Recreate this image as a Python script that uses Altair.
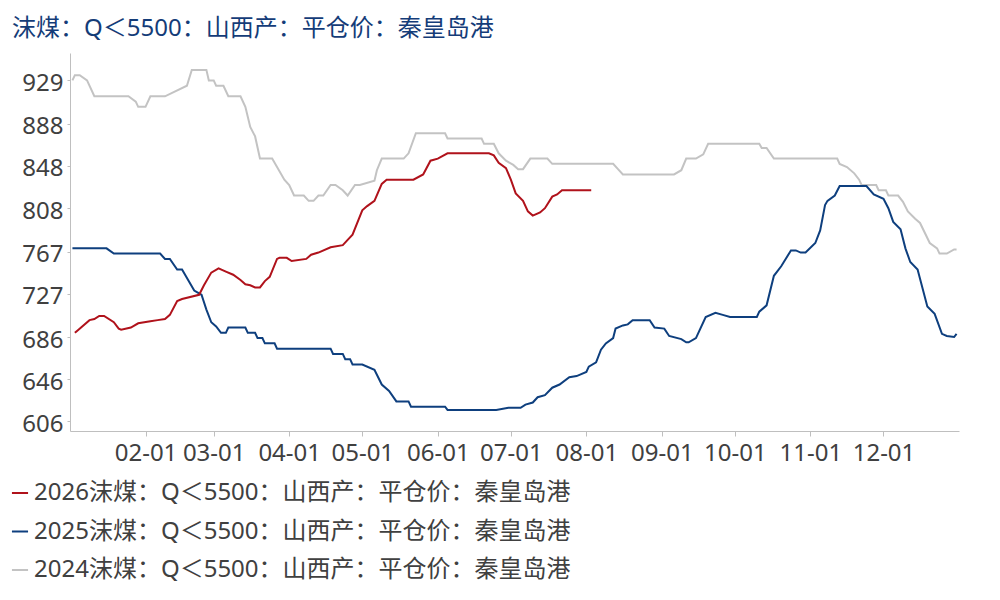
import altair as alt
import pandas as pd

series_names = [
    "2026沫煤：Q＜5500：山西产：平仓价：秦皇岛港",
    "2025沫煤：Q＜5500：山西产：平仓价：秦皇岛港",
    "2024沫煤：Q＜5500：山西产：平仓价：秦皇岛港",
]
series_colors = ["#b0121b", "#0e3f7e", "#c3c3c3"]

dates_2024 = ["01-02","01-03","01-05","01-08","01-11","01-25","01-28","01-29","02-01","02-03",
              "02-09","02-18","02-20","02-26","02-27","03-01","03-02","03-05","03-07","03-12",
              "03-14","03-16","03-18","03-20","03-25","03-30","04-01","04-03","04-07","04-09",
              "04-11","04-13","04-15","04-18","04-20","04-23","04-25","04-28","04-30","05-06",
              "05-07","05-09","05-18","05-20","05-23","06-04","06-05","06-19","06-20","06-24",
              "06-26","06-29","07-02","07-04","07-06","07-09","07-16","07-18","08-12","08-14",
              "08-16","09-06","09-09","09-11","09-15","09-18","09-20","10-11","10-12","10-14",
              "10-17","11-12","11-13","11-16","11-19","11-21","11-22","11-28","11-29","12-02",
              "12-03","12-07","12-09","12-11","12-14","12-16","12-20","12-23","12-24","12-27",
              "12-30","12-31"]
values_2024 = [929,934,934,929,914,914,909,904,904,914,
               914,924,939,939,929,929,924,924,914,914,
               904,885,876,855,855,835,830,820,820,815,
               815,820,820,830,830,825,820,830,830,834,
               844,855,855,860,879,879,874,874,869,869,
               860,853,849,845,845,855,855,850,850,845,
               840,840,844,855,855,859,869,869,865,865,
               855,855,850,847,841,835,830,830,825,825,
               820,820,814,805,798,794,775,770,765,765,
               769,769]

dates_2025 = ["01-02","01-16","01-19","02-07","02-09","02-11","02-14","02-16","02-21","02-24",
              "02-26","02-28","03-02","03-04","03-06","03-07","03-14","03-15","03-18","03-19",
              "03-21","03-22","03-26","03-27","04-18","04-19","04-23","04-24","04-26","04-27",
              "05-01","05-06","05-09","05-12","05-15","05-20","05-21","06-04","06-05","06-25",
              "06-30","07-05","07-07","07-10","07-12","07-15","07-18","07-21","07-25","07-28",
              "08-01","08-02","08-05","08-07","08-09","08-12","08-13","08-16","08-18","08-20",
              "08-27","08-29","09-02","09-04","09-09","09-11","09-12","09-15","09-19","09-23",
              "09-26","09-29","10-10","10-11","10-14","10-17","10-20","10-24","10-26","10-28",
              "10-30","11-03","11-05","11-07","11-08","11-11","11-13","11-24","11-27","12-01",
              "12-03","12-05","12-08","12-10","12-12","12-15","12-19","12-22","12-25","12-27",
              "12-30","12-31"]
values_2025 = [770,770,765,765,760,760,750,750,730,726,
               712,700,696,690,690,695,695,690,690,685,
               685,680,680,675,675,670,670,665,665,660,
               660,655,641,635,625,625,620,620,617,617,
               619,619,622,624,629,631,638,641,648,649,
               653,658,662,674,680,685,694,697,698,702,
               702,695,694,687,684,681,681,685,705,709,
               707,705,705,710,716,744,753,768,768,766,
               766,775,787,811,815,820,829,829,821,817,
               808,795,788,770,757,750,715,708,689,687,
               686,689]

dates_2026 = ["01-03","01-04","01-09","01-11","01-13","01-15","01-19","01-21","01-22","01-26",
              "01-29","02-03","02-06","02-09","02-11","02-14","02-16","02-23","02-25","02-28",
              "03-03","03-06","03-09","03-12","03-14","03-16","03-18","03-20","03-22","03-24",
              "03-27","03-28","03-31","04-02","04-08","04-10","04-13","04-18","04-23","04-25",
              "04-27","05-01","05-03","05-06","05-09","05-11","05-22","05-26","05-29","06-01",
              "06-05","06-22","06-24","06-26","06-29","07-01","07-03","07-06","07-08","07-10",
              "07-13","07-15","07-18","07-20","07-22","07-31","08-03"]
values_2026 = [690,692,702,703,706,706,700,694,693,695,
               699,701,702,703,707,720,722,726,735,747,
               751,748,745,740,736,735,733,733,739,743,
               760,761,761,758,760,764,766,771,773,778,
               783,806,810,815,831,835,835,840,853,855,
               860,860,858,851,846,835,822,815,805,801,
               804,808,819,821,825,825,825]

y_ticks = [606, 646, 686, 727, 767, 808, 848, 888, 929]
x_ticks = ["02-01","03-01","04-01","05-01","06-01","07-01","08-01","09-01","10-01","11-01","12-01"]


def day_of_year(md):
    return pd.Timestamp("2025-" + md).dayofyear - 1


rows = []
for name, ds, vs in [(series_names[2], dates_2024, values_2024),
                     (series_names[1], dates_2025, values_2025),
                     (series_names[0], dates_2026, values_2026)]:
    for d, v in zip(ds, vs):
        rows.append({"series": name, "day": day_of_year(d), "value": v})
df = pd.DataFrame(rows)

FONT = "'Noto Sans', 'Noto Sans CJK SC', sans-serif"

chart = alt.Chart(df).mark_line(strokeWidth=2, clip=True).encode(
    x=alt.X("day:Q",
            scale=alt.Scale(domain=[0, 365], nice=False, zero=False),
            axis=alt.Axis(values=[day_of_year(t) for t in x_ticks],
                          labelExpr="timeFormat(datetime(2025, 0, 1 + datum.value), '%m-%d')",
                          title=None, grid=False, domainColor="#bfbfbf", tickColor="#bfbfbf",
                          tickSize=5, labelFontSize=24, labelColor="#404040", labelPadding=5,
                          labelFont=FONT)),
    y=alt.Y("value:Q",
            scale=alt.Scale(domain=[597, 955], nice=False, zero=False),
            axis=alt.Axis(values=y_ticks, title=None, grid=False, domainColor="#bfbfbf",
                          tickColor="#bfbfbf", tickSize=3, labelFontSize=24, labelColor="#404040",
                          labelPadding=4, labelOffset=3, labelFont=FONT)),
    color=alt.Color("series:N",
                    scale=alt.Scale(domain=series_names, range=series_colors),
                    legend=alt.Legend(title=None, orient="none", legendX=-62, legendY=428,
                                      padding=0, direction="vertical", symbolType="stroke",
                                      symbolStrokeWidth=2, symbolSize=260, labelFontSize=24,
                                      labelColor="#404040", labelFont=FONT, labelLimit=0,
                                      rowPadding=14.5, labelOffset=2)),
).properties(
    width=889,
    height=378,
    title=alt.TitleParams("沫煤：Q＜5500：山西产：平仓价：秦皇岛港", anchor="start", frame="group",
                          dx=-58, fontSize=24, font=FONT, fontWeight="normal", color="#143c78",
                          offset=12),
    autosize=alt.AutoSizeParams(type="none"),
    padding={"left": 62, "top": 45, "right": 30, "bottom": 160},
).configure_view(stroke=None)

chart.save("out.html", embed_options={"renderer": "svg", "actions": False})
